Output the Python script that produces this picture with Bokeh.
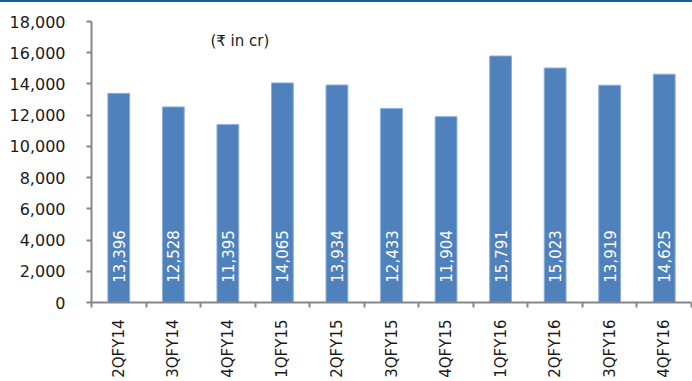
import math
from bokeh.plotting import figure
from bokeh.models import (ColumnDataSource, Range1d, FixedTicker, NumeralTickFormatter,
                          Label, Div)
from bokeh.layouts import column
from bokeh.embed import file_html
from bokeh.resources import INLINE
from bokeh.core.properties import value

quarters = ["2QFY14", "3QFY14", "4QFY14", "1QFY15", "2QFY15", "3QFY15",
            "4QFY15", "1QFY16", "2QFY16", "3QFY16", "4QFY16"]
revenue = [13396, 12528, 11395, 14065, 13934, 12433, 11904, 15791, 15023, 13919, 14625]
y_ticks = list(range(0, 18001, 2000))

FONT = "DejaVu Sans"
n = len(quarters)
centers = [i + 0.5 for i in range(n)]
bounds = [float(i) for i in range(n + 1)]

src = ColumnDataSource(dict(
    x=centers,
    top=revenue,
    lbl=[f"{v:,}" for v in revenue],
    ly=[2950] * n,
))

p = figure(width=692, height=379, output_backend="svg", toolbar_location=None,
           x_range=Range1d(0, n), y_range=Range1d(0, 18000),
           min_border_left=91, min_border_right=1, min_border_top=19,
           min_border_bottom=79)
p.outline_line_color = None
p.grid.visible = False
p.background_fill_color = "white"
p.border_fill_color = "white"

p.vbar(x="x", top="top", width=0.4, source=src,
       fill_color="#4F81BD", line_color="#8DB0DA", line_width=1)

p.text(x="x", y="ly", text="lbl", source=src, angle=math.pi / 2,
       text_align="center", text_baseline="middle", text_color="white",
       text_font=value(FONT), text_font_size="15px")

# y axis
ya = p.yaxis[0]
ya.ticker = FixedTicker(ticks=y_ticks)
ya.formatter = NumeralTickFormatter(format="0,0")
ya.axis_line_color = "#868686"
ya.axis_line_width = 2
ya.major_tick_line_color = "#868686"
ya.major_tick_line_width = 2
ya.major_tick_out = 5
ya.major_tick_in = 0
ya.minor_tick_line_color = None
ya.major_label_text_font = FONT
ya.major_label_text_font_size = "16px"
ya.major_label_text_color = "#1a1a1a"
ya.major_label_standoff = 21

# x axis
xa = p.xaxis[0]
xa.ticker = FixedTicker(ticks=centers, minor_ticks=bounds)
xa.major_label_overrides = {c: q for c, q in zip(centers, quarters)}
xa.major_label_orientation = math.pi / 2
xa.axis_line_color = "#868686"
xa.axis_line_width = 2
xa.major_tick_line_color = None
xa.major_tick_out = 0
xa.major_tick_in = 0
xa.minor_tick_line_color = "#868686"
xa.minor_tick_line_width = 2
xa.minor_tick_out = 5
xa.minor_tick_in = 0
xa.major_label_text_font = FONT
xa.major_label_text_font_size = "15px"
xa.major_label_text_color = "#1a1a1a"
xa.major_label_standoff = 12

p.add_layout(Label(x=2.18, y=16780, text="(₹ in cr)", text_font=FONT,
                   text_font_size="15px", text_color="#1a1a1a",
                   text_baseline="middle"))

top_bar = Div(text="", width=692, height=2,
              styles={"background-color": "#1F56A5", "margin": "0"})

layout = column(top_bar, p, spacing=0)
open("out.html", "w").write(file_html(layout, INLINE))
